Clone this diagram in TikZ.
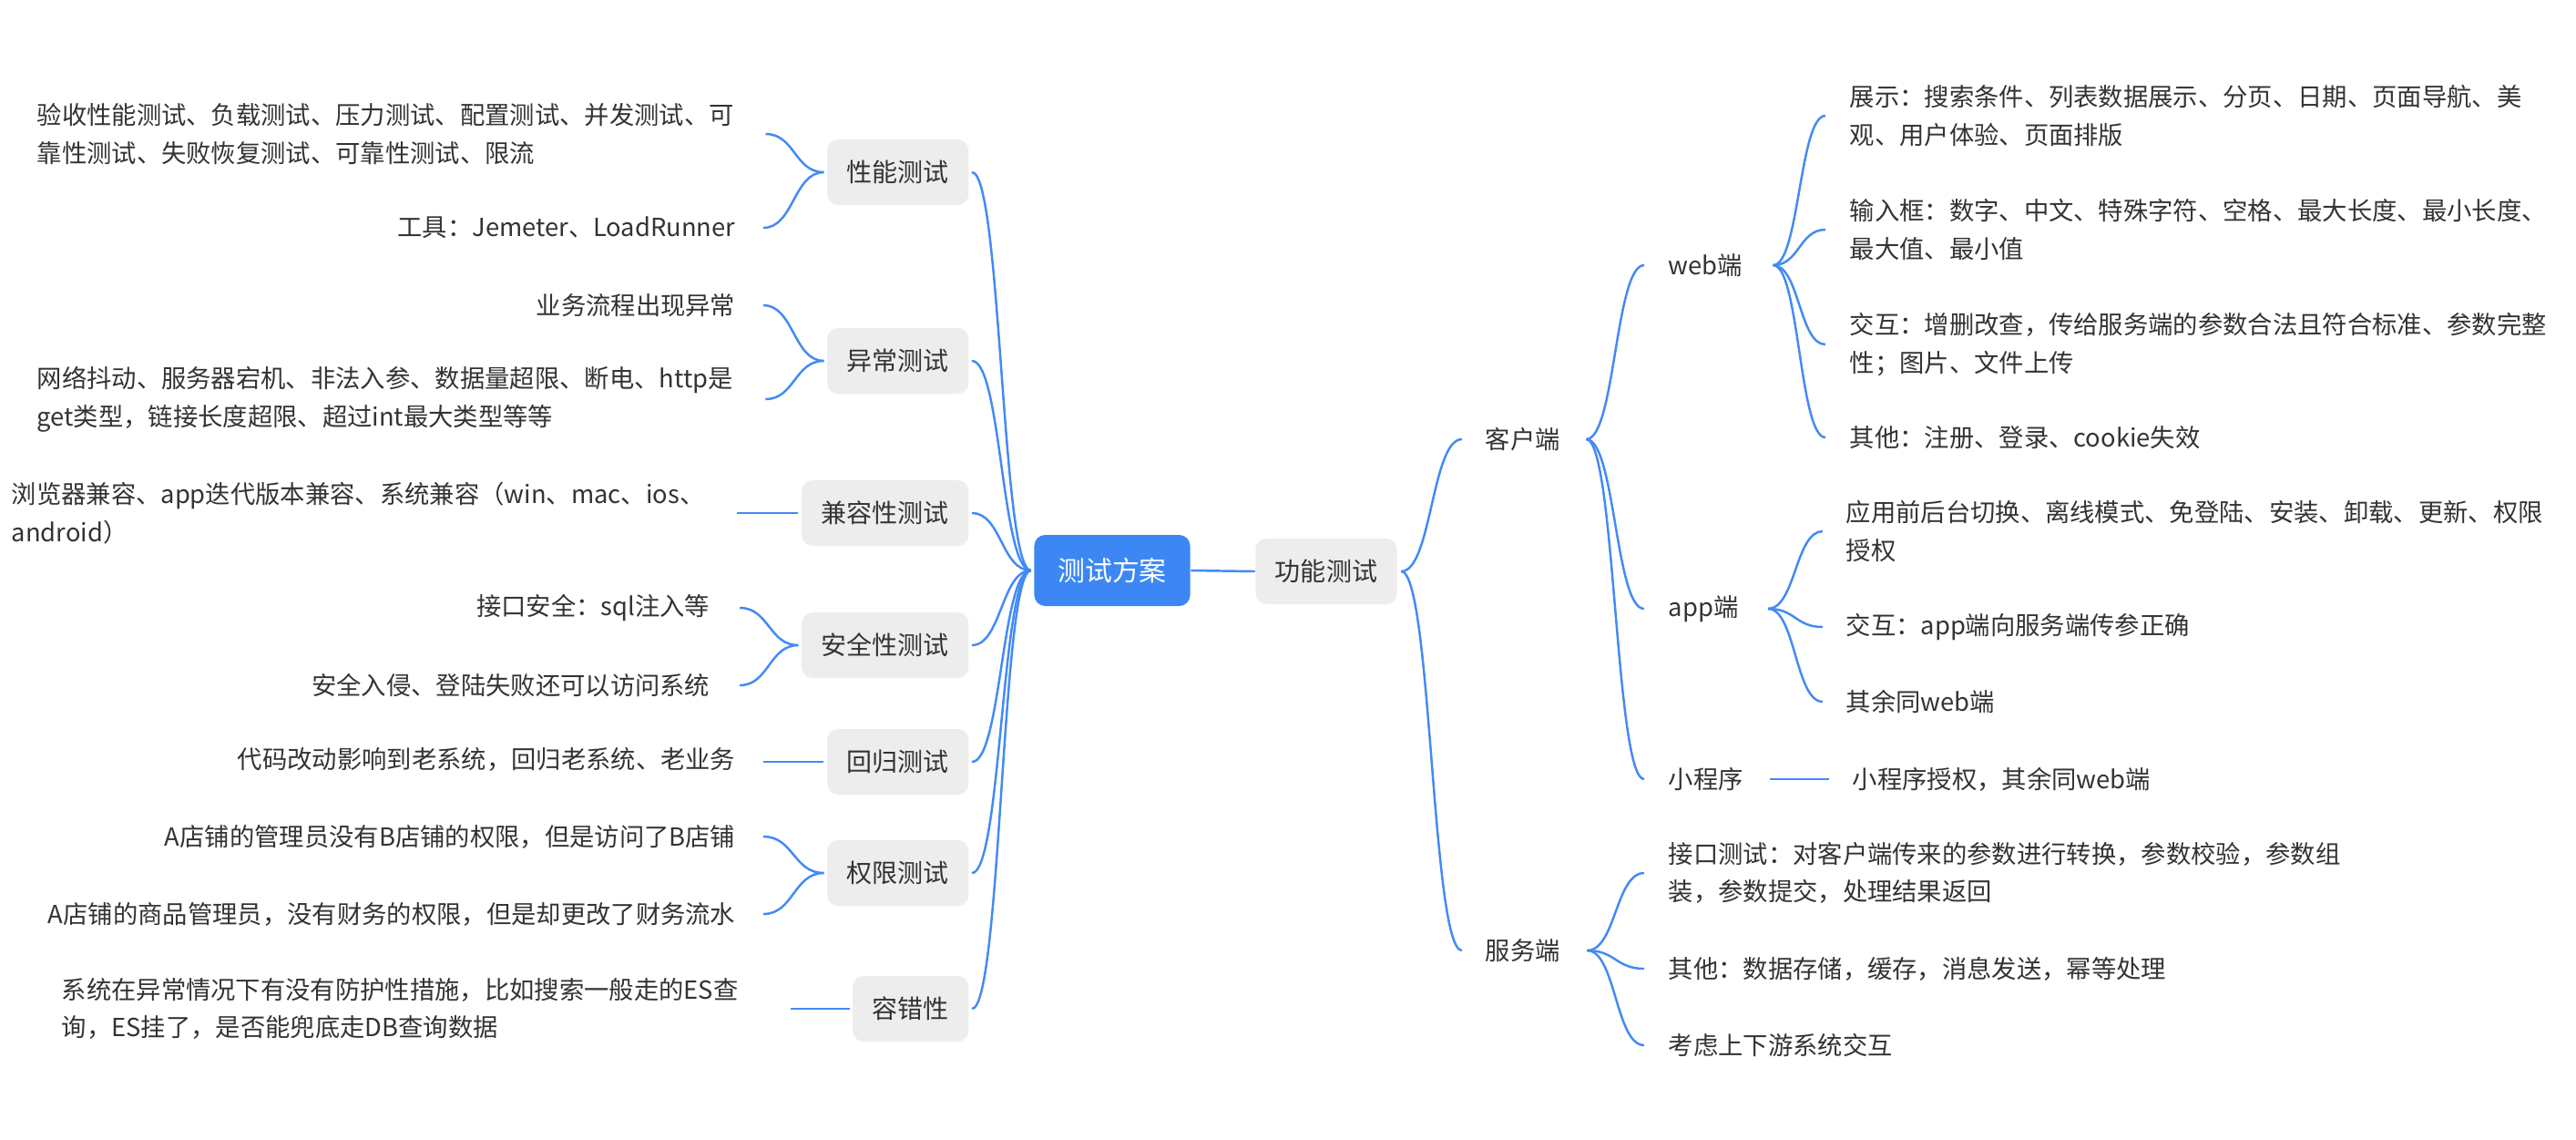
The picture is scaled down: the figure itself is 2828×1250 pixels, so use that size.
\documentclass[tikz,border=0pt]{standalone}
\usepackage{fontspec}
\setmainfont{Noto Sans CJK SC}
\usetikzlibrary{calc}
\definecolor{lineblue}{RGB}{66,138,245}
\definecolor{rootblue}{RGB}{61,135,245}
\definecolor{boxgray}{RGB}{237,237,237}
\definecolor{txt}{RGB}{51,51,51}
\begin{document}
\begin{tikzpicture}[x=0.01cm,y=-0.01cm,
  every node/.style={inner sep=0pt, text=txt, font=\fontsize{7.77pt}{11.8pt}\selectfont},
  leaf/.style={align=left},
  box/.style={fill=boxgray, rounded corners=1.2mm, minimum height=7.2mm, inner xsep=2.15mm, font=\fontsize{7.97pt}{11.8pt}\selectfont},
  rootbox/.style={fill=rootblue, text=white, rounded corners=1.2mm, minimum height=7.8mm, minimum width=17.1mm, font=\fontsize{8.5pt}{12pt}\selectfont},
  conn/.style={draw=lineblue, line width=0.7pt},
  bz/.style={to path={let \p1=(\tikztostart), \p2=(\tikztotarget) in .. controls ({0.5*\x1+0.5*\x2},\y1) and ({0.5*\x1+0.5*\x2},\y2) .. (\tikztotarget)}}
]
\fill[white] (0,0) rectangle (2828,1250);
\useasboundingbox (0,0) rectangle (2828,1250);

% ---------- centre ----------
\node[rootbox] (root) at (1221,626) {测试方案};
\node[box] (func) at (1456,627) {功能测试};

% ---------- left boxes ----------
\node[box, anchor=east] (perf) at (1064,189) {性能测试};
\node[box, anchor=east] (exc)  at (1064,396) {异常测试};
\node[box, anchor=east] (comp) at (1064,563) {兼容性测试};
\node[box, anchor=east] (sec)  at (1064,708) {安全性测试};
\node[box, anchor=east] (reg)  at (1064,836) {回归测试};
\node[box, anchor=east] (perm) at (1064,958) {权限测试};
\node[box, anchor=east] (ft)   at (1064,1107) {容错性};

% ---------- left leaves ----------
\node[leaf, anchor=west] (t1) at (40,147) {验收性能测试、负载测试、压力测试、配置测试、并发测试、可\\靠性测试、失败恢复测试、可靠性测试、限流};
\node[anchor=east] (t2) at (808,250) {工具：Jemeter、LoadRunner};
\node[anchor=east] (t3) at (808,335) {业务流程出现异常};
\node[leaf, anchor=west] (t4) at (40,438) {网络抖动、服务器宕机、非法入参、数据量超限、断电、http是\\get类型，链接长度超限、超过int最大类型等等};
\node[leaf, anchor=west] (t5) at (12,563) {浏览器兼容、app迭代版本兼容、系统兼容（win、mac、ios、\\android）};
\node[anchor=east] (t6) at (780,667) {接口安全：sql注入等};
\node[anchor=east] (t7) at (780,752) {安全入侵、登陆失败还可以访问系统};
\node[anchor=east] (t8) at (808,833) {代码改动影响到老系统，回归老系统、老业务};
\node[anchor=east] (t9) at (808,918) {A店铺的管理员没有B店铺的权限，但是访问了B店铺};
\node[anchor=east] (t10) at (808,1003) {A店铺的商品管理员，没有财务的权限，但是却更改了财务流水};
\node[leaf, anchor=west] (t11) at (67,1107) {系统在异常情况下有没有防护性措施，比如搜索一般走的ES查\\询，ES挂了，是否能兜底走DB查询数据};

% ---------- right side ----------
\node[anchor=west] (khd) at (1630,482) {客户端};
\node[anchor=west] (fwd) at (1630,1043) {服务端};
\node[anchor=west] (web) at (1831,291) {web端};
\node[anchor=west] (app) at (1831,668) {app端};
\node[anchor=west] (mini) at (1831,855) {小程序};

\node[leaf, anchor=west] (r1) at (2030,127) {展示：搜索条件、列表数据展示、分页、日期、页面导航、美\\观、用户体验、页面排版};
\node[leaf, anchor=west] (r2) at (2030,252) {输入框：数字、中文、特殊字符、空格、最大长度、最小长度、\\最大值、最小值};
\node[leaf, anchor=west] (r3) at (2030,378) {交互：增删改查，传给服务端的参数合法且符合标准、参数完整\\性；图片、文件上传};
\node[anchor=west] (r4) at (2030,480) {其他：注册、登录、cookie失效};
\node[leaf, anchor=west] (r5) at (2026,583) {应用前后台切换、离线模式、免登陆、安装、卸载、更新、权限\\授权};
\node[anchor=west] (r6) at (2026,688) {交互：app端向服务端传参正确};
\node[anchor=west] (r7) at (2026,770) {其余同web端};
\node[anchor=west] (r8) at (2033,855) {小程序授权，其余同web端};
\node[leaf, anchor=west] (s1) at (1831,958) {接口测试：对客户端传来的参数进行转换，参数校验，参数组\\装，参数提交，处理结果返回};
\node[anchor=west] (s2) at (1831,1063) {其他：数据存储，缓存，消息发送，幂等处理};
\node[anchor=west] (s3) at (1831,1147) {考虑上下游系统交互};

% ---------- connectors: root ----------
\draw[conn] (root.east) -- (func.west);
\foreach \b in {perf,exc,comp,sec,reg,perm,ft}
  \draw[conn] ([xshift=-0.3mm]root.west) to[bz] ([xshift=0.3mm]\b.east);

% ---------- left groups ----------
\draw[conn] ([xshift=-0.3mm]perf.west) to[bz] ([xshift=3.4mm]t1.east);
\draw[conn] ([xshift=-0.3mm]perf.west) to[bz] ([xshift=3mm]t2.east);
\draw[conn] ([xshift=-0.3mm]exc.west) to[bz] ([xshift=3mm]t3.east);
\draw[conn] ([xshift=-0.3mm]exc.west) to[bz] ([xshift=3.5mm]t4.east);
\draw[conn] ([xshift=-0.3mm]comp.west) -- ([xshift=3.5mm]comp.west -| t5.east);
\draw[conn] ([xshift=-0.3mm]sec.west) to[bz] ([xshift=3.2mm]t6.east);
\draw[conn] ([xshift=-0.3mm]sec.west) to[bz] ([xshift=3.2mm]t7.east);
\draw[conn] ([xshift=-0.3mm]reg.west) -- ([xshift=3mm]reg.west -| t8.east);
\draw[conn] ([xshift=-0.3mm]perm.west) to[bz] ([xshift=3mm]t9.east);
\draw[conn] ([xshift=-0.3mm]perm.west) to[bz] ([xshift=3mm]t10.east);
\draw[conn] ([xshift=-0.3mm]ft.west) -- ([xshift=5.7mm]ft.west -| t11.east);

% ---------- right groups ----------
\draw[conn] ([xshift=0.4mm]func.east) to[bz] ([xshift=-2.5mm]khd.west);
\draw[conn] ([xshift=0.4mm]func.east) to[bz] ([xshift=-2.5mm]fwd.west);
\foreach \c in {web,app,mini}
  \draw[conn] ([xshift=2.8mm]khd.east) to[bz] ([xshift=-2.6mm]\c.west);
\foreach \c in {s1,s2,s3}
  \draw[conn] ([xshift=2.9mm]fwd.east) to[bz] ([xshift=-2.6mm]\c.west);
\foreach \c in {r1,r2,r3,r4}
  \draw[conn] ([xshift=3.3mm]web.east) to[bz] ([xshift=-2.6mm]\c.west);
\foreach \c in {r5,r6,r7}
  \draw[conn] ([xshift=3.2mm]app.east) to[bz] ([xshift=-2.5mm]\c.west);
\draw[conn] ([xshift=2.9mm]mini.east) -- ([xshift=-2.5mm]r8.west);
\end{tikzpicture}
\end{document}
